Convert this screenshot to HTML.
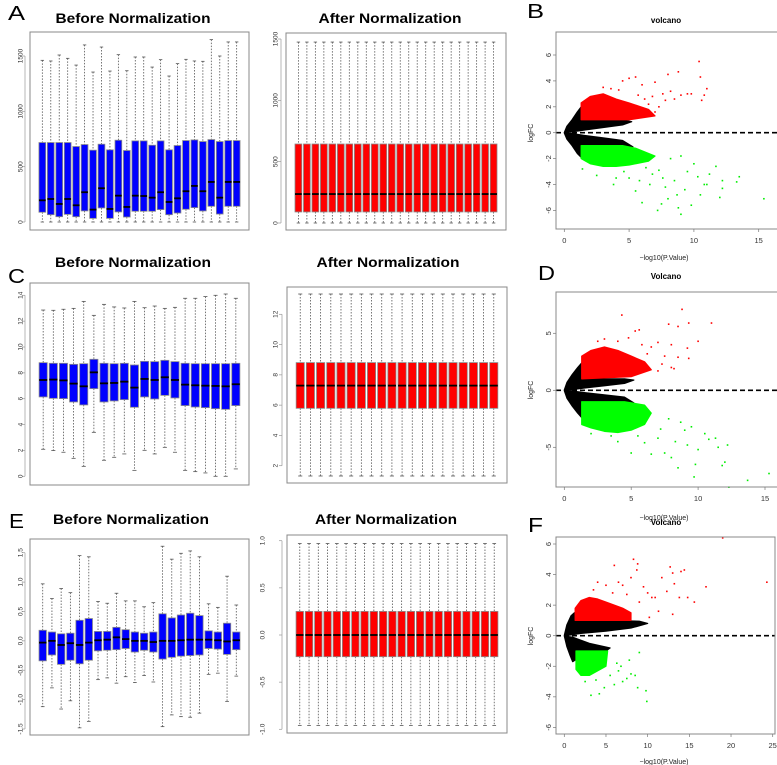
<!DOCTYPE html>
<html><head><meta charset="utf-8"><style>
html,body{margin:0;padding:0;background:#fff;}
svg{display:block;font-family:"Liberation Sans",sans-serif;}
</style></head><body>
<svg id="fig" width="777" height="765" viewBox="0 0 777 765" xmlns="http://www.w3.org/2000/svg">
<rect x="0" y="0" width="777" height="765" fill="#fff"/>
<g font-size="20" fill="#000">
<text x="8" y="20" textLength="17" lengthAdjust="spacingAndGlyphs">A</text>
<text x="527" y="18" textLength="17" lengthAdjust="spacingAndGlyphs">B</text>
<text x="8" y="283" textLength="17" lengthAdjust="spacingAndGlyphs">C</text>
<text x="538" y="280" textLength="17" lengthAdjust="spacingAndGlyphs">D</text>
<text x="9" y="528" textLength="15" lengthAdjust="spacingAndGlyphs">E</text>
<text x="528" y="532" textLength="15" lengthAdjust="spacingAndGlyphs">F</text>
</g>
<g font-size="14" font-weight="bold" text-anchor="middle">
<text x="133" y="23" textLength="155" lengthAdjust="spacingAndGlyphs">Before Normalization</text>
<text x="390" y="23" textLength="143" lengthAdjust="spacingAndGlyphs">After Normalization</text>
<text x="133" y="267" textLength="156" lengthAdjust="spacingAndGlyphs">Before Normalization</text>
<text x="388" y="267" textLength="143" lengthAdjust="spacingAndGlyphs">After Normalization</text>
<text x="131" y="524" textLength="156" lengthAdjust="spacingAndGlyphs">Before Normalization</text>
<text x="386" y="524" textLength="142" lengthAdjust="spacingAndGlyphs">After Normalization</text>
</g>
<g font-size="8" font-weight="bold" text-anchor="middle">
<text x="666" y="23">volcano</text>
<text x="666" y="279">Volcano</text>
<text x="666" y="525">Volcano</text>
</g>
<g font-size="7" text-anchor="middle" fill="#222">
<text x="664" y="260">−log10(P.Value)</text>
<text x="664" y="520">−log10(P.Value)</text>
<text x="664" y="764">−log10(P.Value)</text>
<text transform="translate(533,133) rotate(-90)">logFC</text>
<text transform="translate(533,390) rotate(-90)">logFC</text>
<text transform="translate(533,636) rotate(-90)">logFC</text>
</g>
</svg>
<script>
// ---------- Box plot data ----------
const aBeforeUpper=[1461,1455,1509,1479,1418,1600,1355,1581,1364,1512,1367,1491,1491,1400,1467,1319,1431,1470,1455,1452,1648,1500,1627,1627];
const aBeforeQ3=[718,718,718,718,682,700,649,703,652,739,646,733,733,694,733,652,691,736,742,727,745,727,736,736];
const aBeforeMed=[196,208,163,208,151,269,112,305,118,238,136,238,235,220,269,181,214,278,326,278,362,220,362,362];
const aBeforeQ1=[88,66,48,69,48,100,33,127,33,91,45,97,97,97,112,66,81,115,130,100,142,72,142,142];
const aBeforeLower=[0,0,0,0,0,0,0,0,0,0,0,0,0,0,0,0,0,0,0,0,0,0,0,0];

const aAfterUpper=[1475,1475,1475,1475,1475,1475,1475,1475,1475,1475,1475,1475,1475,1475,1475,1475,1475,1475,1475,1475,1475,1475,1475,1475];
const aAfterQ3=[644,644,644,644,644,644,644,644,644,644,644,644,644,644,644,644,644,644,644,644,644,644,644,644];
const aAfterMed=[236,236,236,236,236,236,236,236,236,236,236,236,236,236,236,236,236,236,236,236,236,236,236,236];
const aAfterQ1=[90,90,90,90,90,90,90,90,90,90,90,90,90,90,90,90,90,90,90,90,90,90,90,90];
const aAfterLower=[0,0,0,0,0,0,0,0,0,0,0,0,0,0,0,0,0,0,0,0,0,0,0,0];

const cBeforeUpper=[12.86,12.84,12.92,12.99,13.53,12.45,13.30,13.10,13.02,13.53,13.04,13.17,12.99,13.07,13.77,13.77,13.90,14.0,14.1,13.77];
const cBeforeQ3=[8.79,8.74,8.74,8.66,8.71,9.05,8.74,8.71,8.74,8.61,8.89,8.87,8.97,8.87,8.74,8.71,8.71,8.71,8.71,8.74];
const cBeforeMed=[7.45,7.48,7.42,7.17,6.96,8.04,7.19,7.22,7.32,6.86,7.53,7.45,7.66,7.45,7.09,7.04,7.01,6.99,6.96,7.12];
const cBeforeQ1=[6.14,6.03,6.01,5.75,5.52,6.78,5.75,5.83,5.93,5.34,6.14,5.98,6.26,6.06,5.47,5.36,5.31,5.23,5.18,5.47];
const cBeforeLower=[2.09,1.99,1.86,1.39,0.77,3.40,1.24,1.47,1.73,0.46,2.01,1.73,2.24,1.86,0.46,0.36,0.26,0,0,0.57];

const cAfterUpper=[13.34,13.34,13.34,13.34,13.34,13.34,13.34,13.34,13.34,13.34,13.34,13.34,13.34,13.34,13.34,13.34,13.34,13.34,13.34,13.34];
const cAfterQ3=[8.81,8.81,8.81,8.81,8.81,8.81,8.81,8.81,8.81,8.81,8.81,8.81,8.81,8.81,8.81,8.81,8.81,8.81,8.81,8.81];
const cAfterMed=[7.29,7.29,7.29,7.29,7.29,7.29,7.29,7.29,7.29,7.29,7.29,7.29,7.29,7.29,7.29,7.29,7.29,7.29,7.29,7.29];
const cAfterQ1=[5.79,5.79,5.79,5.79,5.79,5.79,5.79,5.79,5.79,5.79,5.79,5.79,5.79,5.79,5.79,5.79,5.79,5.79,5.79,5.79];
const cAfterLower=[1.32,1.32,1.32,1.32,1.32,1.32,1.32,1.32,1.32,1.32,1.32,1.32,1.32,1.32,1.32,1.32,1.32,1.32,1.32,1.32];

const eBeforeUpper=[0.97,0.72,0.89,0.82,1.45,1.43,0.67,0.64,0.81,0.68,0.68,0.58,0.65,1.61,1.39,1.49,1.53,1.43,0.63,0.57,1.10,0.61];
const eBeforeQ3=[0.18,0.15,0.12,0.13,0.35,0.38,0.16,0.16,0.23,0.19,0.15,0.13,0.15,0.46,0.39,0.44,0.47,0.43,0.17,0.15,0.30,0.15];
const eBeforeMed=[-0.03,0,-0.07,-0.04,-0.07,-0.03,0.01,0.02,0.06,0.03,0,0,-0.02,0,0,0.01,0.02,0.02,0.02,0.01,-0.01,0.01];
const eBeforeQ1=[-0.34,-0.24,-0.40,-0.33,-0.39,-0.33,-0.17,-0.16,-0.15,-0.13,-0.19,-0.16,-0.19,-0.31,-0.28,-0.26,-0.25,-0.24,-0.13,-0.14,-0.23,-0.15];
const eBeforeLower=[-1.12,-0.80,-1.16,-1.02,-1.48,-1.37,-0.66,-0.63,-0.72,-0.61,-0.71,-0.59,-0.70,-1.46,-1.26,-1.29,-1.30,-1.23,-0.57,-0.55,-1.03,-0.60];

const eAfterUpper=[0.97,0.97,0.97,0.97,0.97,0.97,0.97,0.97,0.97,0.97,0.97,0.97,0.97,0.97,0.97,0.97,0.97,0.97,0.97,0.97,0.97,0.97];
const eAfterQ3=[0.25,0.25,0.25,0.25,0.25,0.25,0.25,0.25,0.25,0.25,0.25,0.25,0.25,0.25,0.25,0.25,0.25,0.25,0.25,0.25,0.25,0.25];
const eAfterMed=[0,0,0,0,0,0,0,0,0,0,0,0,0,0,0,0,0,0,0,0,0,0];
const eAfterQ1=[-0.23,-0.23,-0.23,-0.23,-0.23,-0.23,-0.23,-0.23,-0.23,-0.23,-0.23,-0.23,-0.23,-0.23,-0.23,-0.23,-0.23,-0.23,-0.23,-0.23,-0.23,-0.23];
const eAfterLower=[-0.96,-0.96,-0.96,-0.96,-0.96,-0.96,-0.96,-0.96,-0.96,-0.96,-0.96,-0.96,-0.96,-0.96,-0.96,-0.96,-0.96,-0.96,-0.96,-0.96,-0.96,-0.96];

const ticksA=[0,500,1000,1500];
const ticksCBefore=[0,2,4,6,8,10,12,14];
const ticksCAfter=[2,4,6,8,10,12];
const ticksEBefore=[-1.5,-1.0,-0.5,0.0,0.5,1.0,1.5];
const ticksEAfter=[-1.0,-0.5,0.0,0.5,1.0];

// ---------- Volcano data (x = -log10 P, y = logFC) ----------
const bBlackUp=[[0,0.02],[0.2,0.5],[0.6,1.0],[1.0,1.6],[1.3,2.0],[1.35,1.0],[3,1.0],[4.5,1.0],[5.2,0.85],[4.5,0.6],[3,0.4],[1.5,0.2],[0.5,0.05]];
const bBlackDown=[[0,-0.02],[0.2,-0.5],[0.6,-1.0],[1.0,-1.6],[1.3,-1.9],[1.35,-1.0],[4.5,-1.0],[5.3,-1.1],[4.5,-0.6],[3,-0.4],[1.5,-0.2],[0.5,-0.05]];
const bRedArea=[[1.3,1.0],[1.3,2.3],[2,2.8],[3,3.0],[4,2.6],[5,2.3],[6.5,1.8],[7,1.3],[5,1.0]];
const bGreenArea=[[1.3,-1.0],[1.3,-2.0],[2,-2.4],[3,-2.6],[4,-2.6],[5,-2.5],[6.5,-2.2],[7,-1.8],[5.5,-1.2],[4.5,-1.0]];
const bRedPts=[[10.4,5.5],[10.5,4.3],[8.8,4.7],[8,4.5],[5.5,4.3],[5,4.2],[4.5,4.0],[7,3.9],[11,3.4],[10.8,2.9],[9.5,3],[9.8,3.0],[9,2.9],[8.2,3.2],[7.6,3.0],[8.5,2.6],[6.8,2.8],[6,3.7],[7.8,2.5],[10.6,2.5],[6.5,2.2],[7,1.6],[3,3.5],[6.2,2.6],[5.7,2.9],[4.2,3.3],[3.6,3.4],[7.3,2.0]];
const bGreenPts=[[15.4,-5.1],[13.5,-3.4],[13.3,-3.8],[12.2,-3.7],[12.2,-4.3],[12,-5],[11.7,-2.6],[11,-4],[10.5,-4.8],[10.3,-3.4],[10,-2.4],[9.8,-5.6],[9,-6.3],[8.8,-5.8],[8,-5.1],[7.5,-5.5],[7.2,-6.0],[7.8,-4.2],[6,-5.4],[5.5,-4.5],[9.5,-3.0],[8.5,-3.7],[6.8,-3.2],[7.3,-2.9],[5,-3.5],[4,-3.5],[3.8,-4],[2.5,-3.3],[1.4,-2.8],[9,-1.8],[8.2,-2.0],[11.2,-3.2],[10.8,-4.0],[6.3,-2.7],[5.8,-3.7],[8.7,-4.8],[9.3,-4.4],[7.6,-3.5],[6.6,-4.0],[4.6,-3.0]];

const dBlackUp=[[0,0.03],[0.2,0.7],[0.6,1.4],[1.0,2.0],[1.3,2.4],[1.35,1.0],[3,1.0],[4.5,1.0],[5.2,0.9],[4.5,0.6],[3,0.4],[1.5,0.2],[0.5,0.05]];
const dBlackDown=[[0,-0.03],[0.2,-0.7],[0.6,-1.4],[1.0,-2.0],[1.3,-2.4],[1.35,-1.0],[4.5,-1.0],[5.2,-1.1],[4.5,-0.6],[3,-0.4],[1.5,-0.2],[0.5,-0.05]];
const dRedArea=[[1.3,1],[1.3,3],[2,3.5],[3,3.8],[4,3.5],[5,3],[6,2.5],[6.5,1.8],[5,1.2]];
const dGreenArea=[[1.3,-1],[1.3,-3],[2,-3.3],[3,-3.6],[4,-3.7],[5,-3.5],[6,-3.0],[6.5,-2.0],[6,-1.3],[4.5,-1.0]];
const dRedPts=[[8.8,7.1],[4.3,6.6],[9.3,5.9],[11,5.9],[7.8,5.8],[8.5,5.6],[5.3,5.2],[5.6,5.3],[10,4.3],[4,4.3],[2.5,4.3],[3,4.5],[8,4],[7,4.2],[9.2,3.7],[9.3,2.8],[8.5,2.9],[7.5,3.0],[8,2.0],[7,1.7],[6.2,3.2],[8.2,1.9],[6.5,3.8],[7.3,2.3],[5.8,4.0],[4.8,4.6]];
const dGreenPts=[[15.3,-7.3],[13.7,-7.9],[12.3,-8.5],[12.2,-4.8],[12,-6.3],[11.8,-6.6],[11.5,-5.0],[11.3,-4.2],[10.8,-4.3],[10,-5.2],[9.8,-6.5],[9.7,-7.6],[8.5,-6.8],[8,-5.9],[7.5,-5.5],[9,-3.5],[9.5,-3.2],[7,-4.2],[6.5,-5.6],[5,-5.5],[4,-4.5],[3.5,-4.0],[2,-3.8],[8.7,-2.8],[8.3,-4.5],[10.5,-3.8],[7.8,-2.5],[6,-4.6],[7.2,-3.4],[5.5,-4.0],[9.2,-4.8]];

const fBlackUp=[[0,0.02],[0.3,0.7],[0.8,1.3],[1.2,1.5],[1.4,1.0],[5,1.0],[9,0.95],[10,0.8],[8,0.5],[5,0.3],[2,0.15],[0.5,0.03]];
const fBlackDown=[[0,-0.02],[0.3,-0.7],[0.7,-1.3],[1.0,-1.7],[1.3,-1.6],[1.4,-1.0],[5,-1.0],[5.5,-0.8],[3,-0.5],[1,-0.1]];
const fRedArea=[[1.3,1],[1.3,1.8],[2,2.3],[3,2.5],[4,2.4],[5,2.2],[7,1.8],[8,1.5],[8,1.0]];
const fGreenArea=[[1.4,-1],[1.4,-2.2],[2,-2.6],[3,-2.6],[4,-2.3],[5,-2.0],[5.2,-1.0]];
const fRedPts=[[24.3,3.5],[17,3.2],[19,6.4],[15.6,2.2],[14.8,2.5],[14.4,4.3],[14,4.2],[13.8,2.5],[13.2,3.4],[13,4.1],[13,1.4],[12.7,4.5],[12.3,2.9],[11.7,3.8],[11.3,1.6],[10.9,2.5],[10.5,2.5],[10,2.8],[9.5,3.2],[8.8,4.7],[8.3,5.0],[8.7,4.3],[6,4.6],[6.5,3.5],[7,3.3],[5,3.3],[3.5,3.0],[4,3.5],[9,2.2],[10.2,1.2],[7.5,2.7],[8,3.8],[5.8,2.8]];
const fGreenPts=[[9.9,-4.3],[9.8,-3.6],[4.2,-3.8],[3.2,-3.9],[8.8,-3.4],[9,-1.1],[7,-3.0],[6,-3.2],[7.5,-2.8],[8,-2.5],[6.5,-2.3],[2.5,-3.0],[5.5,-2.6],[4.8,-3.4],[8.5,-2.6],[7.8,-1.6],[6.3,-1.8],[3.8,-2.9],[6.8,-2.0]];

const ticksBX=[0,5,10,15], ticksBY=[-6,-4,-2,0,2,4,6];
const ticksDX=[0,5,10,15], ticksDY=[-5,0,5];
const ticksFX=[0,5,10,15,20,25], ticksFY=[-6,-4,-2,0,2,4,6];

const NS='http://www.w3.org/2000/svg';
const svg=document.getElementById('fig');
function mk(tag,attrs,parent){const e=document.createElementNS(NS,tag);for(const k in attrs)e.setAttribute(k,attrs[k]);(parent||svg).appendChild(e);return e;}
function linScale(v0,p0,v1,p1){return v=>p0+(v-v0)*(p1-p0)/(v1-v0);}

function boxPanel(name,frame,ymap,labelX,ticks,upper,q3,med,q1,lower,color){
  const g=mk('g',{});
  
  
  const n=med.length;
  const u0=0.5-0.04*n, u1=n+0.5+0.04*n;
  const xmap=linScale(u0,frame.x0,u1,frame.x1);
  const sp=xmap(2)-xmap(1);
  const hw=sp*0.4, cw=sp*0.2;
  for(let i=0;i<n;i++){
    const cx=xmap(i+1);
    const bg=mk('g',{},g);
    
    
    mk('line',{x1:cx,x2:cx,y1:ymap(upper[i]),y2:ymap(q3[i]),stroke:'#555','stroke-width':0.8,'stroke-dasharray':'1.5 1.5'},bg);
    mk('line',{x1:cx,x2:cx,y1:ymap(q1[i]),y2:ymap(lower[i]),stroke:'#555','stroke-width':0.8,'stroke-dasharray':'1.5 1.5'},bg);
    mk('line',{x1:cx-cw,x2:cx+cw,y1:ymap(upper[i]),y2:ymap(upper[i]),stroke:'#555','stroke-width':0.8},bg);
    mk('line',{x1:cx-cw,x2:cx+cw,y1:ymap(lower[i]),y2:ymap(lower[i]),stroke:'#555','stroke-width':0.8},bg);
    mk('rect',{x:cx-hw,y:ymap(q3[i]),width:2*hw,height:ymap(q1[i])-ymap(q3[i]),fill:color,stroke:'#8a8a8a','stroke-width':0.8},bg);
    mk('line',{x1:cx-hw,x2:cx+hw,y1:ymap(med[i]),y2:ymap(med[i]),stroke:'#000','stroke-width':1.8},bg);
  }
  mk('rect',{x:frame.x0,y:frame.y0,width:frame.x1-frame.x0,height:frame.y1-frame.y0,fill:'none',stroke:'#888','stroke-width':1},g);
  const ax=mk('g',{},g);
  
  
  mk('line',{x1:frame.x0-5,x2:frame.x0-5,y1:ymap(ticks[0]),y2:ymap(ticks[ticks.length-1]),stroke:'#999','stroke-width':0.7},ax);
  ticks.forEach(t=>{
    const y=ymap(t);
    mk('line',{x1:frame.x0-8,x2:frame.x0-5,y1:y,y2:y,stroke:'#999','stroke-width':0.7},ax);
    const tx=mk('text',{transform:`translate(${labelX+2.5},${y}) rotate(-90)`,'font-size':6.5,'text-anchor':'middle',fill:'#333'},ax);
    tx.textContent=(Number.isInteger(t)&&Math.abs(t)<100&&ticks.some(v=>!Number.isInteger(v)))?t.toFixed(1):String(t);
  });
}

boxPanel('boxplot-a-before',{x0:30,x1:249,y0:32,y1:230},linScale(0,222,1500,56),20,ticksA,aBeforeUpper,aBeforeQ3,aBeforeMed,aBeforeQ1,aBeforeLower,'#0000ff');
boxPanel('boxplot-a-after',{x0:286,x1:506,y0:33,y1:230},linScale(0,223,1500,39),275,ticksA,aAfterUpper,aAfterQ3,aAfterMed,aAfterQ1,aAfterLower,'#ff0000');
boxPanel('boxplot-c-before',{x0:30,x1:249,y0:283,y1:485},linScale(0,476.3,14,295.3),20,ticksCBefore,cBeforeUpper,cBeforeQ3,cBeforeMed,cBeforeQ1,cBeforeLower,'#0000ff');
boxPanel('boxplot-c-after',{x0:287,x1:507,y0:287,y1:483},linScale(2,465.7,12,314.3),275,ticksCAfter,cAfterUpper,cAfterQ3,cAfterMed,cAfterQ1,cAfterLower,'#ff0000');
boxPanel('boxplot-e-before',{x0:30,x1:249,y0:539,y1:735},linScale(-1.5,729,1.5,552.7),20,ticksEBefore,eBeforeUpper,eBeforeQ3,eBeforeMed,eBeforeQ1,eBeforeLower,'#0000ff');
boxPanel('boxplot-e-after',{x0:287,x1:507,y0:535,y1:733},linScale(-1,729.3,1,540.7),262,ticksEAfter,eAfterUpper,eAfterQ3,eAfterMed,eAfterQ1,eAfterLower,'#ff0000');

function volcano(name,frame,xmap,ymap,xt,yt,xLabY,blackUp,blackDown,redArea,greenArea,redPts,greenPts){
  const g=mk('g',{});
  
  
  const poly=(pts,fill,nm)=>{
    const p=mk('polygon',{points:pts.map(d=>xmap(d[0])+','+ymap(d[1])).join(' '),fill:fill,stroke:fill,'stroke-width':1.2,'stroke-linejoin':'round'},g);
    
    
  };
  poly(blackUp,'#000','black-cloud-up');
  poly(blackDown,'#000','black-cloud-down');
  poly(redArea,'#ff0000','red-dense-area');
  poly(greenArea,'#00ff00','green-dense-area');
  redPts.forEach(d=>{
    const r=mk('rect',{x:xmap(d[0])-0.8,y:ymap(d[1])-0.8,width:1.6,height:1.6,fill:'#ff0000'},g);
    
    
  });
  greenPts.forEach(d=>{
    const r=mk('rect',{x:xmap(d[0])-0.8,y:ymap(d[1])-0.8,width:1.6,height:1.6,fill:'#00ee00'},g);
    
    
  });
  const z=mk('line',{x1:frame.x0,x2:frame.x1,y1:ymap(0),y2:ymap(0),stroke:'#000','stroke-width':1.6,'stroke-dasharray':'5 3'},g);
  
  
  mk('rect',{x:frame.x0,y:frame.y0,width:frame.x1-frame.x0,height:frame.y1-frame.y0,fill:'none',stroke:'#888','stroke-width':1},g);
  xt.forEach(t=>{
    const x=xmap(t);
    mk('line',{x1:x,x2:x,y1:frame.y1,y2:frame.y1+3,stroke:'#777','stroke-width':0.7},g);
    const tx=mk('text',{x:x,y:xLabY,'font-size':7.5,'text-anchor':'middle',fill:'#333'},g);
    tx.textContent=String(t);
  });
  yt.forEach(t=>{
    const y=ymap(t);
    mk('line',{x1:frame.x0-3,x2:frame.x0,y1:y,y2:y,stroke:'#777','stroke-width':0.7},g);
    const tx=mk('text',{transform:`translate(${frame.x0-5},${y}) rotate(-90)`,'font-size':7.5,'text-anchor':'middle',fill:'#333'},g);
    tx.textContent=String(t);
  });
}
volcano('volcano-b',{x0:556,x1:790,y0:32,y1:229},linScale(0,564.3,15,758.7),linScale(0,132.7,6,55),ticksBX,ticksBY,243,bBlackUp,bBlackDown,bRedArea,bGreenArea,bRedPts,bGreenPts);
volcano('volcano-d',{x0:556,x1:790,y0:292,y1:487},linScale(0,564.3,15,765),linScale(0,390.3,5,333.3),ticksDX,ticksDY,501,dBlackUp,dBlackDown,dRedArea,dGreenArea,dRedPts,dGreenPts);
volcano('volcano-f',{x0:556,x1:775,y0:537,y1:734},linScale(0,564.3,25,772.7),linScale(0,635.7,6,544),ticksFX,ticksFY,748,fBlackUp,fBlackDown,fRedArea,fGreenArea,fRedPts,fGreenPts);
</script>
</body></html>
